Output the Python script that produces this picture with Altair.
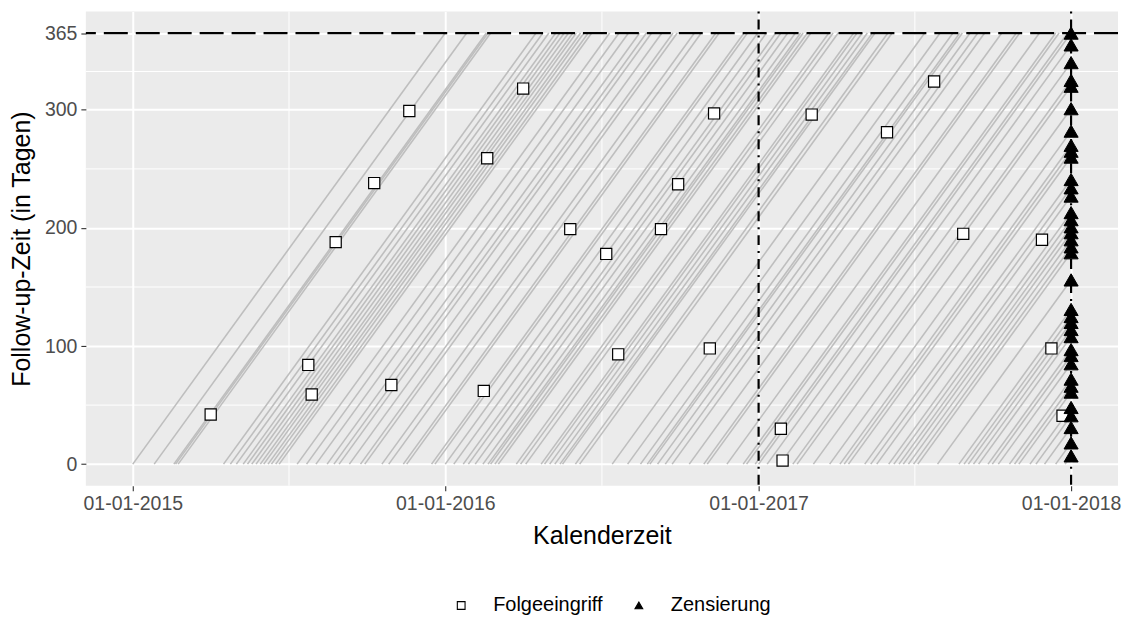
import altair as alt
import pandas as pd

# ---- data (days since 01-01-2015) ----
start_days = [
    0, 25, 48, 50, 53, 106, 114, 121, 129, 134, 139, 144, 149, 153, 158, 162,
    167, 171, 192, 203, 214, 227, 235, 241, 253, 266, 271, 291, 299, 316, 320,
    349, 353, 365, 375, 386, 392, 400, 409, 415, 418, 423, 427, 448, 453, 459,
    477, 481, 487, 493, 499, 502, 517, 522, 560, 578, 593, 601, 604, 613, 622,
    630, 650, 667, 671, 694, 713, 717, 727,
    731, 741, 756, 771, 776, 795, 814, 826, 831, 836, 855, 862, 869, 883, 889,
    895, 900, 906, 912, 917, 940, 965, 971, 976, 982, 988, 999, 1004, 1011,
    1024, 1030, 1035, 1048, 1055, 1065, 1078, 1089,
]
event_days = [91, 209, 205, 302, 237, 282, 323, 410, 414, 456, 511, 553, 567,
              617, 637, 674, 679, 757, 759, 793, 881, 936, 970, 1062, 1073, 1086]
event_fu = [42, 59, 84, 67, 188, 238, 299, 62, 259, 318, 199, 178, 93,
            199, 237, 98, 297, 30, 3, 296, 281, 324, 195, 190, 98, 41]

max_fu = 365
censor_day = 1096            # 01-01-2018
major_x_days = [0, 365, 731, 1096]   # 01-01-2015 ... 01-01-2018
x_label_format = "%d-%m-%Y"
minor_x_days = [182.5, 548, 913.5]
vline_days = [731, 1096]
y_ticks = [0, 100, 200, 300, 365]
y_minor = [50, 150, 250, 332.5]
types = ["Folgeeingriff", "Zensierung"]

BASE = pd.Timestamp("2015-01-01", tz="UTC")


def ms(day):
    return int((BASE + pd.Timedelta(days=day)).value // 10**6)


lines_df = pd.DataFrame({
    "x": [ms(s) for s in start_days],
    "x2": [ms(min(s + max_fu, censor_day)) for s in start_days],
    "y": [0] * len(start_days),
    "y2": [min(max_fu, censor_day - s) for s in start_days],
})

cens = [s for s in start_days if censor_day - s <= max_fu]
ev_df = pd.DataFrame({
    "x": [ms(d) for d in event_days],
    "y": event_fu,
    "type": [types[0]] * len(event_days),
})
ce_df = pd.DataFrame({
    "x": [ms(censor_day)] * len(cens),
    "y": [censor_day - s for s in cens],
    "type": [types[1]] * len(cens),
})

FONT = "Liberation Sans"
xscale = alt.Scale(type="utc", domain=[ms(-54.8), ms(censor_day + 54.8)], nice=False)
yscale = alt.Scale(domain=[-18.25, 383.25], nice=False, zero=False)

xaxis = alt.Axis(values=[ms(d) for d in major_x_days],
                 labelExpr=f"utcFormat(datum.value, '{x_label_format}')",
                 title="Kalenderzeit", grid=True)
yaxis = alt.Axis(values=y_ticks, title="Follow-up-Zeit (in Tagen)", grid=True)

minor_x = alt.Chart(pd.DataFrame({"x": [ms(d) for d in minor_x_days]})).mark_rule(
    color="white", strokeWidth=1
).encode(x=alt.X("x:T", scale=xscale, axis=xaxis))

minor_y = alt.Chart(pd.DataFrame({"y": y_minor})).mark_rule(
    color="white", strokeWidth=1
).encode(y=alt.Y("y:Q", scale=yscale, axis=yaxis))

lines = alt.Chart(lines_df).mark_rule(color="#BEBEBE", strokeWidth=1.6).encode(
    x=alt.X("x:T", scale=xscale), x2="x2:T",
    y=alt.Y("y:Q", scale=yscale), y2="y2:Q",
)

hline = alt.Chart(pd.DataFrame({"y": [max_fu]})).mark_rule(
    color="black", strokeWidth=2.2, strokeDash=[24, 8]
).encode(y=alt.Y("y:Q", scale=yscale))

vlines = alt.Chart(pd.DataFrame({"x": [ms(d) for d in vline_days]})).mark_rule(
    color="black", strokeWidth=2.2, strokeDash=[2, 6, 10, 6]
).encode(x=alt.X("x:T", scale=xscale))

legend = alt.Legend(
    title=None, orient="none", direction="horizontal", legendX=366, legendY=585,
    symbolSize=60, symbolStrokeWidth=1.1,
)
shape_enc = alt.Shape("type:N", scale=alt.Scale(domain=types, range=["square", "triangle-up"]),
                      legend=legend)
fill_enc = alt.Fill("type:N", scale=alt.Scale(domain=types, range=["white", "black"]),
                    legend=legend)
stroke_enc = alt.Stroke("type:N", scale=alt.Scale(domain=types, range=["black", "black"]),
                        legend=legend)

events = alt.Chart(ev_df).mark_point(
    filled=True, strokeWidth=1.2, opacity=1, size=125
).encode(x=alt.X("x:T", scale=xscale), y=alt.Y("y:Q", scale=yscale),
         shape=shape_enc, fill=fill_enc, stroke=stroke_enc)

censored = alt.Chart(ce_df).mark_point(
    filled=True, strokeWidth=1, opacity=1, size=200
).encode(x=alt.X("x:T", scale=xscale), y=alt.Y("y:Q", scale=yscale),
         shape=shape_enc, fill=fill_enc, stroke=stroke_enc)

chart = alt.layer(minor_x, minor_y, lines, hline, vlines, events, censored).properties(
    width=1034, height=475,
    autosize=alt.AutoSizeParams(type="none"),
    padding={"left": 78, "top": 3, "right": 5, "bottom": 130},
).configure_view(fill="#EBEBEB", stroke=None).configure_axis(
    labelFont=FONT, titleFont=FONT, labelFontSize=19.5, labelColor="#4D4D4D",
    titleFontSize=25, titleColor="black", titleFontWeight="normal",
    domain=False, tickColor="#333333", tickWidth=1.1, tickSize=5,
    gridColor="white", gridWidth=2, labelPadding=4,
).configure_axisX(titlePadding=10).configure_axisY(titlePadding=10).configure_legend(
    labelFont=FONT, labelFontSize=20, labelColor="black",
    labelOffset=22, columnPadding=26, padding=0,
)

chart.save("out.html", embed_options={"renderer": "svg", "actions": False})
